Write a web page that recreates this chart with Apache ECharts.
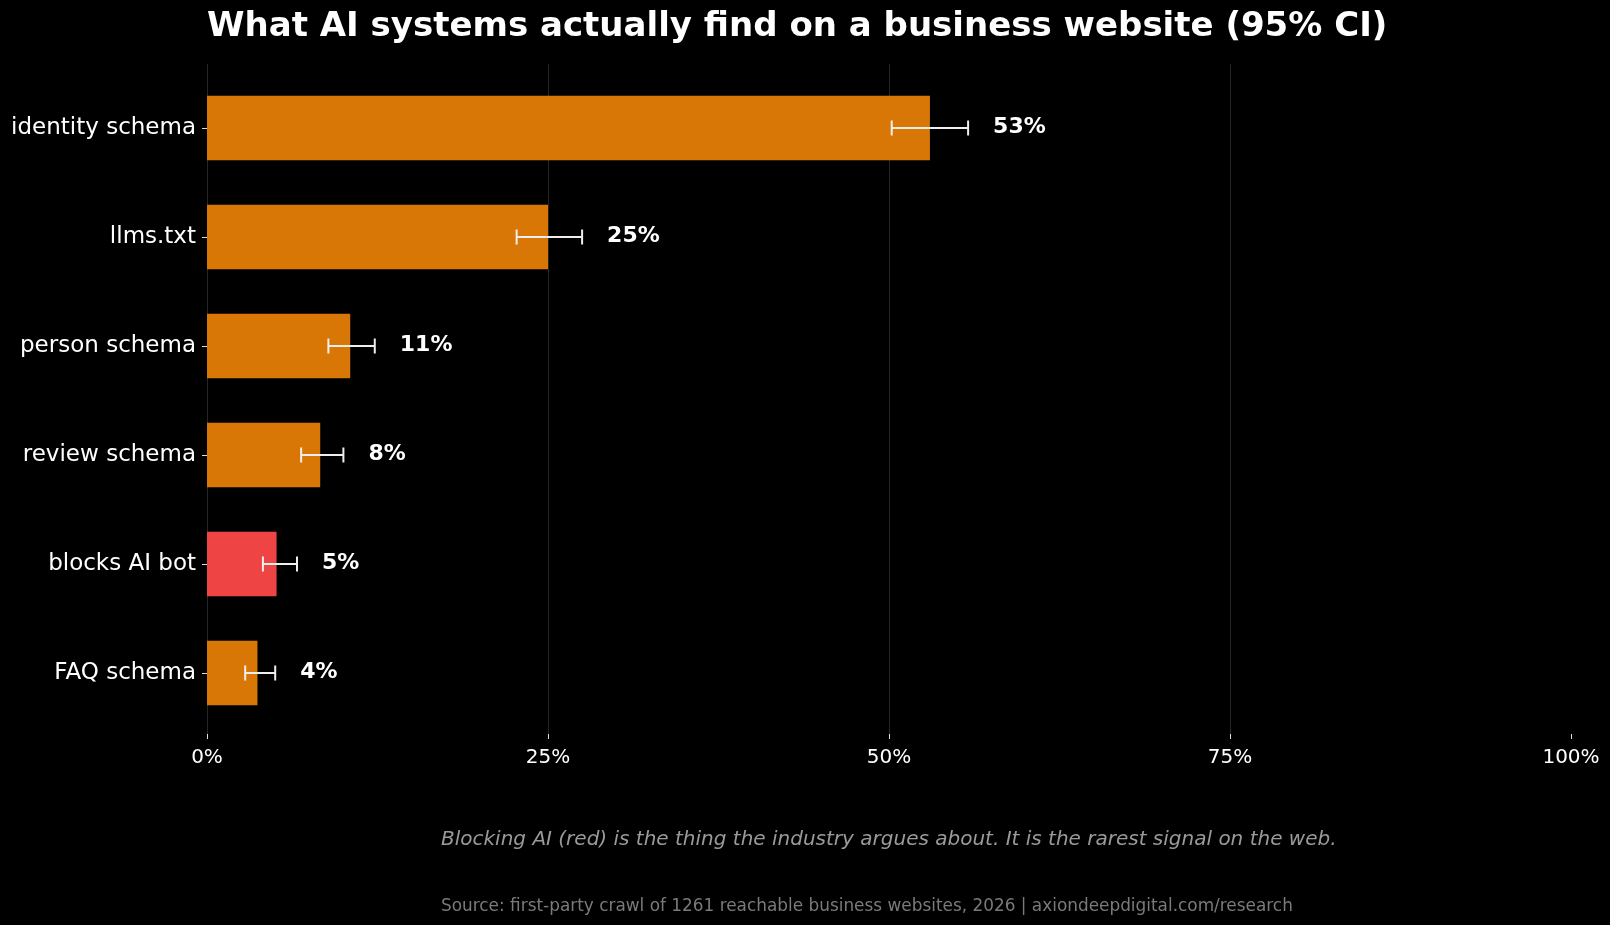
<!DOCTYPE html>
<html>
<head>
<meta charset="utf-8">
<script src="https://cdn.jsdelivr.net/npm/echarts@6/dist/echarts.min.js"></script>
<style>
  html, body { margin: 0; padding: 0; background: #000; }
  #main { width: 1610px; height: 925px; }
</style>
</head>
<body>
<div id="main"></div>
<script>
    var myChart = echarts.init(document.getElementById('main'));

    // 類別 (上到下)
    var categories = ['identity schema', 'llms.txt', 'person schema', 'review schema', 'blocks AI bot', 'FAQ schema'];
    // 比例 (%)
    var shares = [53.0, 25.0, 10.5, 8.3, 5.1, 3.7];
    // 95% CI
    var ciLow = [50.2, 22.7, 8.9, 6.9, 4.1, 2.8];
    var ciHigh = [55.8, 27.5, 12.3, 10.0, 6.6, 5.0];
    // 紅色的那一條
    var highlight = ['blocks AI bot'];
    var xTicks = [0, 25, 50, 75, 100];

    var FONT = 'DejaVu Sans';

    function pctLabel(i) {
        return Math.round(shares[i]) + '%';
    }

    var option = {
        backgroundColor: '#000',
        animation: false,
        title: {
            text: 'What AI systems actually find on a business website (95% CI)',
            left: 207,
            top: 10,
            padding: 0,
            textStyle: { color: '#fff', fontSize: 34, fontWeight: 'bold', fontFamily: FONT }
        },
        grid: [
            // 網格線用
            { left: 207, right: 39, top: 64, bottom: 191, outerBoundsMode: 'none' },
            // 長條用
            { left: 207, right: 39, top: 73.5, bottom: 197.5, outerBoundsMode: 'none' }
        ],
        xAxis: [
            {
                gridIndex: 0,
                type: 'value',
                min: xTicks[0],
                max: xTicks[xTicks.length - 1],
                interval: 25,
                axisLine: { show: false },
                axisTick: { show: true, length: 5, lineStyle: { color: '#ddd', width: 1 } },
                axisLabel: {
                    color: '#fff', fontSize: 20, fontFamily: FONT, margin: 14,
                    formatter: function (v) { return v + '%'; }
                },
                splitLine: { show: true, showMaxLine: false, lineStyle: { color: '#262626', width: 1 } }
            },
            {
                gridIndex: 1,
                type: 'value',
                min: 0,
                max: 100,
                show: false
            }
        ],
        yAxis: [
            {
                gridIndex: 0,
                type: 'value',
                min: 0,
                max: 1,
                show: false
            },
            {
                gridIndex: 1,
                type: 'category',
                data: categories,
                inverse: true,
                axisLine: { show: false },
                axisTick: { show: true, alignWithLabel: true, length: 5, lineStyle: { color: '#ddd', width: 1 } },
                axisLabel: { color: '#fff', fontSize: 23, fontFamily: FONT, margin: 11, padding: [4, 0, 0, 0] },
                splitLine: { show: false }
            }
        ],
        series: [
            {
                type: 'bar',
                xAxisIndex: 1,
                yAxisIndex: 1,
                barCategoryGap: '41%',
                z: 2,
                data: shares.map(function (v, i) {
                    return {
                        value: v,
                        itemStyle: { color: highlight.indexOf(categories[i]) >= 0 ? '#EF4444' : '#D97706' }
                    };
                })
            },
            {
                // 誤差線 + 數值標籤
                type: 'custom',
                xAxisIndex: 1,
                yAxisIndex: 1,
                z: 10,
                encode: { x: [0, 1], y: 2 },
                data: categories.map(function (c, i) {
                    return [ciLow[i], ciHigh[i], i];
                }),
                renderItem: function (params, api) {
                    var idx = api.value(2);
                    var p1 = api.coord([api.value(0), idx]);
                    var p2 = api.coord([api.value(1), idx]);
                    var cap = 7.5;
                    var style = { stroke: '#eeeeee', lineWidth: 2 };
                    return {
                        type: 'group',
                        children: [
                            { type: 'line', z2: 10, shape: { x1: p1[0], y1: p1[1], x2: p2[0], y2: p2[1] }, style: style },
                            { type: 'line', z2: 10, shape: { x1: p1[0], y1: p1[1] - cap, x2: p1[0], y2: p1[1] + cap }, style: style },
                            { type: 'line', z2: 10, shape: { x1: p2[0], y1: p2[1] - cap, x2: p2[0], y2: p2[1] + cap }, style: style },
                            {
                                type: 'text',
                                x: p2[0] + 25,
                                y: p2[1] - 1,
                                style: {
                                    text: pctLabel(idx),
                                    fill: '#fff',
                                    font: 'bold 22px "DejaVu Sans"',
                                    textAlign: 'left',
                                    textVerticalAlign: 'middle'
                                }
                            }
                        ]
                    };
                }
            }
        ],
        graphic: [
            {
                type: 'text',
                left: 441,
                top: 830,
                style: {
                    text: 'Blocking AI (red) is the thing the industry argues about. It is the rarest signal on the web.',
                    fill: '#9a9a9a',
                    font: 'italic 20px "DejaVu Sans"'
                }
            },
            {
                type: 'text',
                left: 441,
                top: 898,
                style: {
                    text: 'Source: first-party crawl of 1261 reachable business websites, 2026 | axiondeepdigital.com/research',
                    fill: '#7a7a7a',
                    font: '16.9px "DejaVu Sans"'
                }
            }
        ]
    };

    myChart.setOption(option);

    window.addEventListener('resize', function () {
        myChart.resize();
    });
</script>
</body>
</html>
